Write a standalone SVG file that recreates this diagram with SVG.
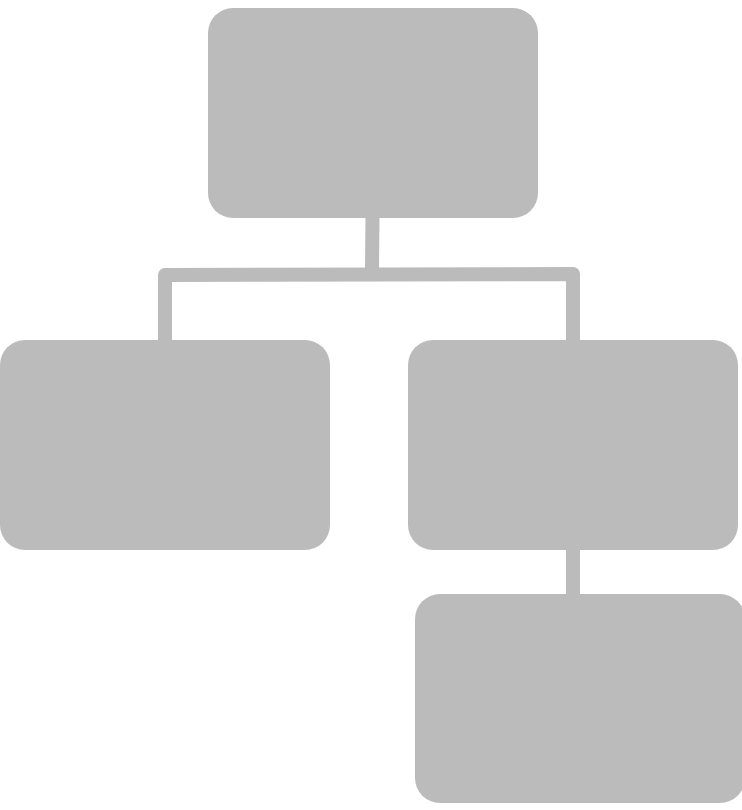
<svg xmlns="http://www.w3.org/2000/svg" width="742" height="810" viewBox="0 0 742 810">
  <style>
    .node { fill: #BBBBBB; }
    .conn { fill: none; stroke: #BBBBBB; stroke-width: 14; stroke-linejoin: round; }
  </style>
  <rect width="742" height="810" fill="#FFFFFF"/>
  <g id="connectors">
    <path class="conn" d="M372.5,215 L372,268"/>
    <path class="conn" d="M165,342 L165,275 L573,274 L573,342"/>
    <path class="conn" d="M573,548 L573,596"/>
  </g>
  <g id="node-top">
    <rect class="node" x="208" y="8" width="330" height="210" rx="25" ry="25"/>
  </g>
  <g id="node-left">
    <rect class="node" x="0" y="340" width="330" height="210" rx="25" ry="25"/>
  </g>
  <g id="node-right">
    <rect class="node" x="408" y="340" width="330" height="210" rx="25" ry="25"/>
  </g>
  <g id="node-bottom">
    <rect class="node" x="415" y="594" width="330" height="209" rx="25" ry="25"/>
  </g>
</svg>
